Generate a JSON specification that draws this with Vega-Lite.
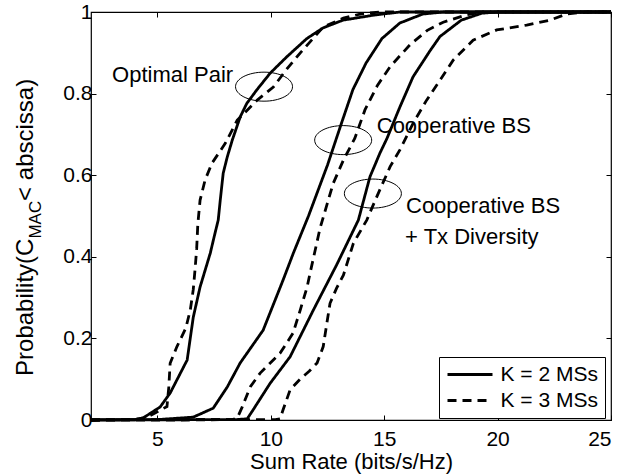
{
  "$schema": "https://vega.github.io/schema/vega-lite/v6.json",
  "width": 520,
  "height": 408,
  "autosize": "none",
  "padding": {"left": 91, "top": 12, "right": 30, "bottom": 56},
  "background": "white",
  "config": {
    "view": {"stroke": "black", "strokeWidth": 1.2},
    "font": "Liberation Sans",
    "axis": {
      "domain": false, "grid": false, "ticks": true, "tickSize": -5, "tickColor": "black", "tickWidth": 1,
      "labelFont": "Liberation Sans", "labelFontSize": 21, "labelColor": "black",
      "titleFont": "Liberation Sans", "titleFontSize": 22, "titleColor": "black", "titleFontWeight": "normal"
    }
  },
  "datasets": {
    "curves": [
      {"curve":"A","K":"K = 2 MSs","x":2.07,"y":0},{"curve":"A","K":"K = 2 MSs","x":4.0,"y":0.001},{"curve":"A","K":"K = 2 MSs","x":4.37,"y":0.005},{"curve":"A","K":"K = 2 MSs","x":5.12,"y":0.032},{"curve":"A","K":"K = 2 MSs","x":5.56,"y":0.066},{"curve":"A","K":"K = 2 MSs","x":6.31,"y":0.147},{"curve":"A","K":"K = 2 MSs","x":6.58,"y":0.252},{"curve":"A","K":"K = 2 MSs","x":6.88,"y":0.326},{"curve":"A","K":"K = 2 MSs","x":7.33,"y":0.409},{"curve":"A","K":"K = 2 MSs","x":7.5,"y":0.449},{"curve":"A","K":"K = 2 MSs","x":7.68,"y":0.49},{"curve":"A","K":"K = 2 MSs","x":7.77,"y":0.539},{"curve":"A","K":"K = 2 MSs","x":7.9,"y":0.605},{"curve":"A","K":"K = 2 MSs","x":8.08,"y":0.645},{"curve":"A","K":"K = 2 MSs","x":8.3,"y":0.686},{"curve":"A","K":"K = 2 MSs","x":8.65,"y":0.743},{"curve":"A","K":"K = 2 MSs","x":8.94,"y":0.776},{"curve":"A","K":"K = 2 MSs","x":9.38,"y":0.809},{"curve":"A","K":"K = 2 MSs","x":9.97,"y":0.85},{"curve":"A","K":"K = 2 MSs","x":10.7,"y":0.89},{"curve":"A","K":"K = 2 MSs","x":11.59,"y":0.935},{"curve":"A","K":"K = 2 MSs","x":12.3,"y":0.961},{"curve":"A","K":"K = 2 MSs","x":13.18,"y":0.98},{"curve":"A","K":"K = 2 MSs","x":14.5,"y":0.992},{"curve":"A","K":"K = 2 MSs","x":15.69,"y":1.0},{"curve":"A","K":"K = 2 MSs","x":25,"y":1.0},
      {"curve":"B","K":"K = 3 MSs","x":2.07,"y":0},{"curve":"B","K":"K = 3 MSs","x":4.0,"y":0.001},{"curve":"B","K":"K = 3 MSs","x":4.55,"y":0.007},{"curve":"B","K":"K = 3 MSs","x":5.42,"y":0.033},{"curve":"B","K":"K = 3 MSs","x":5.5,"y":0.08},{"curve":"B","K":"K = 3 MSs","x":5.56,"y":0.139},{"curve":"B","K":"K = 3 MSs","x":5.86,"y":0.18},{"curve":"B","K":"K = 3 MSs","x":6.25,"y":0.225},{"curve":"B","K":"K = 3 MSs","x":6.45,"y":0.27},{"curve":"B","K":"K = 3 MSs","x":6.58,"y":0.32},{"curve":"B","K":"K = 3 MSs","x":6.66,"y":0.37},{"curve":"B","K":"K = 3 MSs","x":6.73,"y":0.42},{"curve":"B","K":"K = 3 MSs","x":6.78,"y":0.48},{"curve":"B","K":"K = 3 MSs","x":6.88,"y":0.539},{"curve":"B","K":"K = 3 MSs","x":7.1,"y":0.588},{"curve":"B","K":"K = 3 MSs","x":7.4,"y":0.629},{"curve":"B","K":"K = 3 MSs","x":7.99,"y":0.678},{"curve":"B","K":"K = 3 MSs","x":8.52,"y":0.735},{"curve":"B","K":"K = 3 MSs","x":9.4,"y":0.784},{"curve":"B","K":"K = 3 MSs","x":10.11,"y":0.816},{"curve":"B","K":"K = 3 MSs","x":10.7,"y":0.86},{"curve":"B","K":"K = 3 MSs","x":11.3,"y":0.9},{"curve":"B","K":"K = 3 MSs","x":12.31,"y":0.963},{"curve":"B","K":"K = 3 MSs","x":13.2,"y":0.985},{"curve":"B","K":"K = 3 MSs","x":13.94,"y":0.995},{"curve":"B","K":"K = 3 MSs","x":14.8,"y":1.0},{"curve":"B","K":"K = 3 MSs","x":25,"y":1.0},
      {"curve":"C","K":"K = 2 MSs","x":2.07,"y":0},{"curve":"C","K":"K = 2 MSs","x":5.0,"y":0.001},{"curve":"C","K":"K = 2 MSs","x":6.58,"y":0.007},{"curve":"C","K":"K = 2 MSs","x":7.46,"y":0.029},{"curve":"C","K":"K = 2 MSs","x":8.08,"y":0.081},{"curve":"C","K":"K = 2 MSs","x":8.65,"y":0.14},{"curve":"C","K":"K = 2 MSs","x":9.66,"y":0.22},{"curve":"C","K":"K = 2 MSs","x":10.54,"y":0.343},{"curve":"C","K":"K = 2 MSs","x":11.0,"y":0.41},{"curve":"C","K":"K = 2 MSs","x":11.66,"y":0.5},{"curve":"C","K":"K = 2 MSs","x":12.5,"y":0.625},{"curve":"C","K":"K = 2 MSs","x":13.1,"y":0.725},{"curve":"C","K":"K = 2 MSs","x":13.62,"y":0.81},{"curve":"C","K":"K = 2 MSs","x":14.2,"y":0.875},{"curve":"C","K":"K = 2 MSs","x":14.9,"y":0.935},{"curve":"C","K":"K = 2 MSs","x":15.69,"y":0.973},{"curve":"C","K":"K = 2 MSs","x":16.7,"y":0.995},{"curve":"C","K":"K = 2 MSs","x":17.6,"y":1.0},{"curve":"C","K":"K = 2 MSs","x":25,"y":1.0},
      {"curve":"D","K":"K = 3 MSs","x":2.07,"y":0},{"curve":"D","K":"K = 3 MSs","x":8.3,"y":0.001},{"curve":"D","K":"K = 3 MSs","x":8.52,"y":0.005},{"curve":"D","K":"K = 3 MSs","x":8.74,"y":0.032},{"curve":"D","K":"K = 3 MSs","x":9.09,"y":0.081},{"curve":"D","K":"K = 3 MSs","x":9.53,"y":0.115},{"curve":"D","K":"K = 3 MSs","x":10.41,"y":0.164},{"curve":"D","K":"K = 3 MSs","x":10.98,"y":0.213},{"curve":"D","K":"K = 3 MSs","x":11.3,"y":0.27},{"curve":"D","K":"K = 3 MSs","x":11.6,"y":0.326},{"curve":"D","K":"K = 3 MSs","x":11.73,"y":0.36},{"curve":"D","K":"K = 3 MSs","x":12.17,"y":0.47},{"curve":"D","K":"K = 3 MSs","x":12.75,"y":0.58},{"curve":"D","K":"K = 3 MSs","x":13.2,"y":0.637},{"curve":"D","K":"K = 3 MSs","x":13.7,"y":0.69},{"curve":"D","K":"K = 3 MSs","x":14.15,"y":0.76},{"curve":"D","K":"K = 3 MSs","x":14.7,"y":0.82},{"curve":"D","K":"K = 3 MSs","x":15.26,"y":0.866},{"curve":"D","K":"K = 3 MSs","x":16.14,"y":0.92},{"curve":"D","K":"K = 3 MSs","x":16.9,"y":0.955},{"curve":"D","K":"K = 3 MSs","x":17.6,"y":0.975},{"curve":"D","K":"K = 3 MSs","x":18.63,"y":0.993},{"curve":"D","K":"K = 3 MSs","x":19.3,"y":1.0},{"curve":"D","K":"K = 3 MSs","x":25,"y":1.0},
      {"curve":"E","K":"K = 2 MSs","x":2.07,"y":0},{"curve":"E","K":"K = 2 MSs","x":8.5,"y":0.001},{"curve":"E","K":"K = 2 MSs","x":8.96,"y":0.003},{"curve":"E","K":"K = 2 MSs","x":9.22,"y":0.025},{"curve":"E","K":"K = 2 MSs","x":9.97,"y":0.09},{"curve":"E","K":"K = 2 MSs","x":10.85,"y":0.155},{"curve":"E","K":"K = 2 MSs","x":11.88,"y":0.27},{"curve":"E","K":"K = 2 MSs","x":12.9,"y":0.38},{"curve":"E","K":"K = 2 MSs","x":13.86,"y":0.49},{"curve":"E","K":"K = 2 MSs","x":14.37,"y":0.596},{"curve":"E","K":"K = 2 MSs","x":14.81,"y":0.654},{"curve":"E","K":"K = 2 MSs","x":15.12,"y":0.69},{"curve":"E","K":"K = 2 MSs","x":15.69,"y":0.767},{"curve":"E","K":"K = 2 MSs","x":16.27,"y":0.841},{"curve":"E","K":"K = 2 MSs","x":17.02,"y":0.905},{"curve":"E","K":"K = 2 MSs","x":17.46,"y":0.94},{"curve":"E","K":"K = 2 MSs","x":18.4,"y":0.98},{"curve":"E","K":"K = 2 MSs","x":19.3,"y":0.997},{"curve":"E","K":"K = 2 MSs","x":20.0,"y":1.0},{"curve":"E","K":"K = 2 MSs","x":25,"y":1.0},
      {"curve":"F","K":"K = 3 MSs","x":2.07,"y":0},{"curve":"F","K":"K = 3 MSs","x":10.2,"y":0.001},{"curve":"F","K":"K = 3 MSs","x":10.41,"y":0.003},{"curve":"F","K":"K = 3 MSs","x":10.54,"y":0.025},{"curve":"F","K":"K = 3 MSs","x":10.85,"y":0.074},{"curve":"F","K":"K = 3 MSs","x":11.29,"y":0.1},{"curve":"F","K":"K = 3 MSs","x":11.7,"y":0.12},{"curve":"F","K":"K = 3 MSs","x":12.04,"y":0.14},{"curve":"F","K":"K = 3 MSs","x":12.31,"y":0.18},{"curve":"F","K":"K = 3 MSs","x":12.47,"y":0.237},{"curve":"F","K":"K = 3 MSs","x":12.61,"y":0.286},{"curve":"F","K":"K = 3 MSs","x":12.9,"y":0.323},{"curve":"F","K":"K = 3 MSs","x":13.2,"y":0.355},{"curve":"F","K":"K = 3 MSs","x":13.64,"y":0.433},{"curve":"F","K":"K = 3 MSs","x":14.23,"y":0.49},{"curve":"F","K":"K = 3 MSs","x":14.67,"y":0.547},{"curve":"F","K":"K = 3 MSs","x":15.26,"y":0.621},{"curve":"F","K":"K = 3 MSs","x":15.69,"y":0.662},{"curve":"F","K":"K = 3 MSs","x":16.3,"y":0.73},{"curve":"F","K":"K = 3 MSs","x":16.87,"y":0.784},{"curve":"F","K":"K = 3 MSs","x":17.46,"y":0.833},{"curve":"F","K":"K = 3 MSs","x":18.04,"y":0.882},{"curve":"F","K":"K = 3 MSs","x":18.92,"y":0.931},{"curve":"F","K":"K = 3 MSs","x":19.96,"y":0.956},{"curve":"F","K":"K = 3 MSs","x":21.28,"y":0.968},{"curve":"F","K":"K = 3 MSs","x":22.3,"y":0.98},{"curve":"F","K":"K = 3 MSs","x":23.04,"y":0.995},{"curve":"F","K":"K = 3 MSs","x":23.9,"y":1.0},{"curve":"F","K":"K = 3 MSs","x":25,"y":1.0}
    ],
    "ellipses": [
      {"x": 9.7, "y": 0.817},
      {"x": 13.19, "y": 0.686},
      {"x": 14.5, "y": 0.555}
    ],
    "labels": [
      {"text": "Optimal Pair", "x": 3.0, "y": 0.829},
      {"text": "Cooperative BS", "x": 14.67, "y": 0.703},
      {"text": "Cooperative BS", "x": 15.96, "y": 0.507},
      {"text": "+ Tx Diversity", "x": 15.92, "y": 0.431}
    ],
    "ytitle": [
      {"text": "Probability(C", "x": -0.47, "y": 0.108},
      {"text": " < abscissa)", "x": -0.47, "y": 0.537}
    ],
    "ysub": [
      {"text": "MAC", "x": -0.12, "y": 0.4446}
    ]
  },
  "layer": [
    {
      "data": {"name": "curves"},
      "mark": {"type": "line", "strokeWidth": 2.8, "color": "black", "strokeCap": "butt"},
      "encoding": {
        "x": {"field": "x", "type": "quantitative", "scale": {"domain": [2.07, 25], "nice": false, "zero": false},
              "axis": {"orient": "bottom", "values": [5, 10, 15, 20, 25], "title": "Sum Rate (bits/s/Hz)", "labelPadding": 13, "titlePadding": 2}},
        "y": {"field": "y", "type": "quantitative", "scale": {"domain": [0, 1], "nice": false},
              "axis": {"orient": "left", "values": [0, 0.2, 0.4, 0.6, 0.8, 1], "title": null, "labelPadding": 4, "labelExpr": "datum.value + ''"}},
        "detail": {"field": "curve"},
        "strokeDash": {"field": "K", "type": "nominal",
          "scale": {"domain": ["K = 2 MSs", "K = 3 MSs"], "range": [[1, 0], [9, 6]]},
          "legend": {"orient": "none", "legendX": 348, "legendY": 345, "title": null, "strokeColor": "black", "fillColor": "white",
                     "padding": 7, "rowPadding": 4, "symbolType": "M-2.5,0H2.5", "symbolSize": 324, "symbolOffset": 13.5, "symbolStrokeWidth": 2.8,
                     "symbolStrokeColor": "black", "labelFont": "Liberation Sans", "labelFontSize": 21, "labelColor": "black", "labelOffset": 20}}
      }
    },
    {
      "data": {"name": "ellipses"},
      "mark": {"type": "point", "shape": "M-1,0A1,0.509,0,1,1,1,0A1,0.509,0,1,1,-1,0Z", "size": 3249, "filled": false, "stroke": "black", "strokeWidth": 1, "opacity": 1},
      "encoding": {
        "x": {"field": "x", "type": "quantitative", "axis": {"orient": "top", "labels": false, "title": null, "values": [5, 10, 15, 20, 25]}},
        "y": {"field": "y", "type": "quantitative", "axis": {"orient": "right", "labels": false, "title": null, "values": [0, 0.2, 0.4, 0.6, 0.8, 1]}}
      }
    },
    {
      "data": {"name": "labels"},
      "mark": {"type": "text", "align": "left", "baseline": "alphabetic", "fontSize": 22, "font": "Liberation Sans", "color": "black"},
      "encoding": {
        "x": {"field": "x", "type": "quantitative", "axis": null},
        "y": {"field": "y", "type": "quantitative", "axis": null},
        "text": {"field": "text"}
      }
    },
    {
      "data": {"name": "ytitle"},
      "mark": {"type": "text", "align": "left", "baseline": "alphabetic", "angle": 270, "fontSize": 24, "font": "Liberation Sans", "color": "black"},
      "encoding": {
        "x": {"field": "x", "type": "quantitative", "axis": null},
        "y": {"field": "y", "type": "quantitative", "axis": null},
        "text": {"field": "text"}
      }
    },
    {
      "data": {"name": "ysub"},
      "mark": {"type": "text", "align": "left", "baseline": "alphabetic", "angle": 270, "fontSize": 17, "font": "Liberation Sans", "color": "black"},
      "encoding": {
        "x": {"field": "x", "type": "quantitative", "axis": null},
        "y": {"field": "y", "type": "quantitative", "axis": null},
        "text": {"field": "text"}
      }
    }
  ]
}
